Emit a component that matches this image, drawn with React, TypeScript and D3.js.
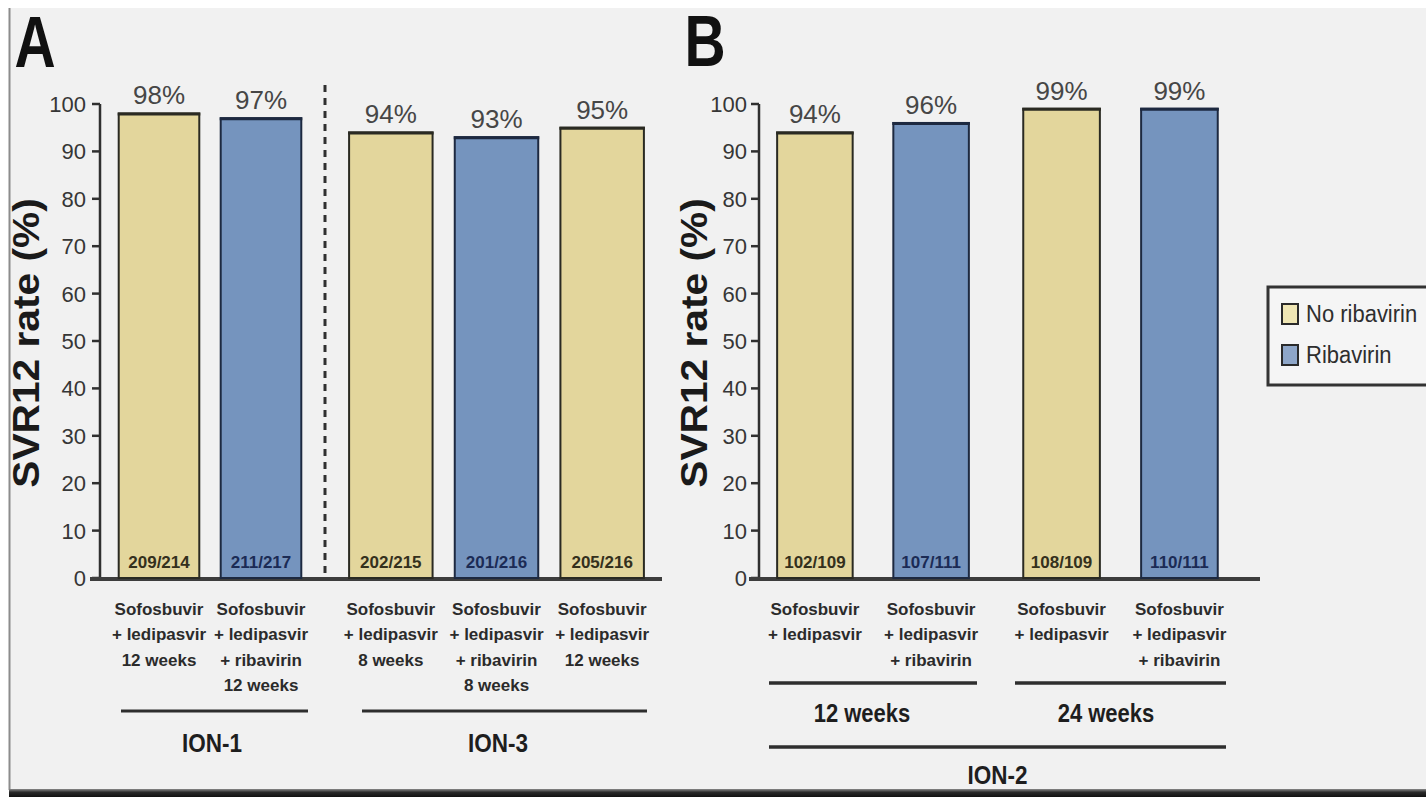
import React from 'react';
import * as d3 from 'd3';

// ---- data ----
const yTicks = [0, 10, 20, 30, 40, 50, 60, 70, 80, 90, 100];

const aLabels = [
  ['Sofosbuvir', '+ ledipasvir', '12 weeks'],
  ['Sofosbuvir', '+ ledipasvir', '+ ribavirin', '12 weeks'],
  ['Sofosbuvir', '+ ledipasvir', '8 weeks'],
  ['Sofosbuvir', '+ ledipasvir', '+ ribavirin', '8 weeks'],
  ['Sofosbuvir', '+ ledipasvir', '12 weeks'],
];
const aValues = [98, 97, 94, 93, 95];
const aFractions = ['209/214', '211/217', '202/215', '201/216', '205/216'];
const aRibavirin = [false, true, false, true, false];
const aTrials = ['ION-1', 'ION-1', 'ION-3', 'ION-3', 'ION-3'];

const bLabels = [
  ['Sofosbuvir', '+ ledipasvir'],
  ['Sofosbuvir', '+ ledipasvir', '+ ribavirin'],
  ['Sofosbuvir', '+ ledipasvir'],
  ['Sofosbuvir', '+ ledipasvir', '+ ribavirin'],
];
const bValues = [94, 96, 99, 99];
const bFractions = ['102/109', '107/111', '108/109', '110/111'];
const bRibavirin = [false, true, false, true];
const bDurations = ['12 weeks', '12 weeks', '24 weeks', '24 weeks'];
const bTrial = 'ION-2';

const legendLabels = ['No ribavirin', 'Ribavirin'];

// ---- style ----
const FONT = "'Liberation Sans', Arial, Helvetica, sans-serif";
const YELLOW = '#e3d69c';
const BLUE = '#7594be';
const YELLOW_EDGE = '#2a2a22';
const BLUE_EDGE = '#1d2940';

const y = d3.scaleLinear().domain([0, 100]).range([578, 104]);

// panel A: one band scale per trial
const aGroups = [
  { name: 'ION-1', range: [108, 312], line: [121, 308], labelX: 212 },
  { name: 'ION-3', range: [338, 655], line: [362, 647], labelX: 498 },
].map(g => {
  const idx = aTrials.map((t, i) => (t === g.name ? i : -1)).filter(i => i >= 0);
  const scale = d3.scaleBand<number>().domain(idx).range(g.range as [number, number])
    .paddingInner(0.21).paddingOuter(0.105);
  return { ...g, idx, scale };
});

// panel B: one band scale per duration
const bGroups = [
  { name: '12 weeks', range: [769, 977], labelX: 862 },
  { name: '24 weeks', range: [1015, 1226], labelX: 1106 },
].map(g => {
  const idx = bDurations.map((t, i) => (t === g.name ? i : -1)).filter(i => i >= 0);
  const scale = d3.scaleBand<number>().domain(idx).range(g.range as [number, number])
    .paddingInner(0.35).paddingOuter(0.07);
  return { ...g, idx, scale };
});

const xA = (i: number) => aGroups.find(g => g.idx.includes(i))!.scale;
const xB = (i: number) => bGroups.find(g => g.idx.includes(i))!.scale;

type Bar = { x: number; w: number; v: number; frac: string; rib: boolean; label: string[] };

const Bars = ({ bars }: { bars: Bar[] }) => (
  <g>
    {bars.map((b, i) => {
      const top = y(b.v);
      const edge = b.rib ? BLUE_EDGE : YELLOW_EDGE;
      return (
        <g key={i}>
          <rect x={b.x} y={top} width={b.w} height={y(0) - top}
            fill={b.rib ? BLUE : YELLOW} stroke={edge} strokeWidth={2} />
          <line x1={b.x - 1} x2={b.x + b.w + 1} y1={top + 0.5} y2={top + 0.5} stroke={edge} strokeWidth={3} />
          <text x={b.x + b.w / 2} y={top - 9} textAnchor="middle" fontSize={26} fill="#464646">
            {b.v}%
          </text>
          <text x={b.x + b.w / 2} y={568} textAnchor="middle" fontSize={17} fontWeight="bold"
            fill={b.rib ? '#1b2b55' : '#34301c'}>
            {b.frac}
          </text>
          {b.label.map((l, k) => (
            <text key={k} x={b.x + b.w / 2} y={615 + k * 25.3} textAnchor="middle"
              fontSize={17} fontWeight="bold" fill="#2b2b2b">
              {l}
            </text>
          ))}
        </g>
      );
    })}
  </g>
);

const Axis = ({ x, x0, x1, labelRight, titleX }: { x: number; x0: number; x1: number; labelRight: number; titleX: number }) => (
  <g>
    <line x1={x} x2={x} y1={y(100)} y2={y(0)} stroke="#303030" strokeWidth={2.5} />
    {yTicks.map(t => (
      <g key={t}>
        <line x1={x - 8} x2={x} y1={y(t)} y2={y(t)} stroke="#303030" strokeWidth={2.5} />
        <text x={labelRight} y={y(t) + 8} textAnchor="end" fontSize={22} fill="#363636">{t}</text>
      </g>
    ))}
    <line x1={x0} x2={x1} y1={y(0) + 1} y2={y(0) + 1} stroke="#3d3d3d" strokeWidth={4} />
    <text transform={`translate(${titleX},${(y(0) + y(100)) / 2 + 2}) rotate(-90) scale(1.1,1)`}
      textAnchor="middle" dominantBaseline="middle" fontSize={37} fontWeight="bold" fill="#1a1a1a">
      SVR12 rate (%)
    </text>
  </g>
);

const BigText = ({ x, y: ty, children, size, sx = 1, sy = 1, anchor = 'middle', weight = 'bold', fill = '#1e1e1e' }: any) => (
  <text transform={`translate(${x},${ty}) scale(${sx},${sy})`} textAnchor={anchor}
    fontSize={size} fontWeight={weight} fill={fill}>
    {children}
  </text>
);

export default function App() {
  const aBars: Bar[] = aValues.map((v, i) => ({
    x: xA(i)(i)!, w: xA(i).bandwidth(), v, frac: aFractions[i], rib: aRibavirin[i], label: aLabels[i],
  }));
  const bBars: Bar[] = bValues.map((v, i) => ({
    x: xB(i)(i)!, w: xB(i).bandwidth(), v, frac: bFractions[i], rib: bRibavirin[i], label: bLabels[i],
  }));
  const sepX = (aGroups[0].range[1] + aGroups[1].range[0]) / 2;

  return (
    <svg width={1426} height={797} fontFamily={FONT}
      style={{ position: 'absolute', left: 0, top: 0, display: 'block' }}>
      <defs>
        <linearGradient id="bottomBand" x1="0" y1="0" x2="0" y2="1">
          <stop offset="0" stopColor="#8a8a8a" />
          <stop offset="0.4" stopColor="#2a2a2a" />
          <stop offset="1" stopColor="#111" />
        </linearGradient>
      </defs>
      <rect width={1426} height={797} fill="#ffffff" />
      <rect x={10} y={8} width={1416} height={782} fill="#f1f1f1" />
      <line x1={9.5} x2={9.5} y1={8} y2={790} stroke="#8c8c8c" strokeWidth={2} />
      <rect x={9} y={789} width={1417} height={8} fill="url(#bottomBand)" />

      {/* panel A */}
      <BigText x={35} y={67} size={73} sx={0.78} fill="#111">A</BigText>
      <Axis x={100} x0={90} x1={662} labelRight={86} titleX={29} />
      <line x1={sepX} x2={sepX} y1={85} y2={y(0)} stroke="#303030" strokeWidth={3} strokeDasharray="7 6" />
      <Bars bars={aBars} />
      {aGroups.map(g => (
        <g key={g.name}>
          <line x1={g.line[0]} x2={g.line[1]} y1={711} y2={711} stroke="#2e2e2e" strokeWidth={3} />
          <BigText x={g.labelX} y={752} size={25} sx={0.9}>{g.name}</BigText>
        </g>
      ))}

      {/* panel B */}
      <BigText x={705} y={66} size={73} sx={0.78} fill="#111">B</BigText>
      <Axis x={759} x0={749} x1={1260} labelRight={747} titleX={697} />
      <Bars bars={bBars} />
      {bGroups.map(g => (
        <g key={g.name}>
          <line x1={g.range[0]} x2={g.range[1]} y1={683} y2={683} stroke="#2e2e2e" strokeWidth={3.5} />
          <BigText x={g.labelX} y={722} size={25} sx={0.88}>{g.name}</BigText>
        </g>
      ))}
      <line x1={bGroups[0].range[0]} x2={bGroups[1].range[1]} y1={747} y2={747} stroke="#2e2e2e" strokeWidth={3.5} />
      <BigText x={(bGroups[0].range[0] + bGroups[1].range[1]) / 2} y={784} size={25} sx={0.9}>{bTrial}</BigText>

      {/* legend */}
      <g>
        <rect x={1268} y={287} width={180} height={98} fill="#f5f5f5" stroke="#333" strokeWidth={3} />
        {legendLabels.map((l, i) => (
          <g key={l}>
            <rect x={1282} y={304 + i * 41} width={16} height={20}
              fill={i === 0 ? '#efe6b4' : '#8ea6c8'} stroke="#2a2a2a" strokeWidth={2} />
            <BigText x={1306} y={322 + i * 41} size={22} sy={1.12} anchor="start" weight="normal" fill="#2e2e2e">
              {l}
            </BigText>
          </g>
        ))}
      </g>
    </svg>
  );
}
